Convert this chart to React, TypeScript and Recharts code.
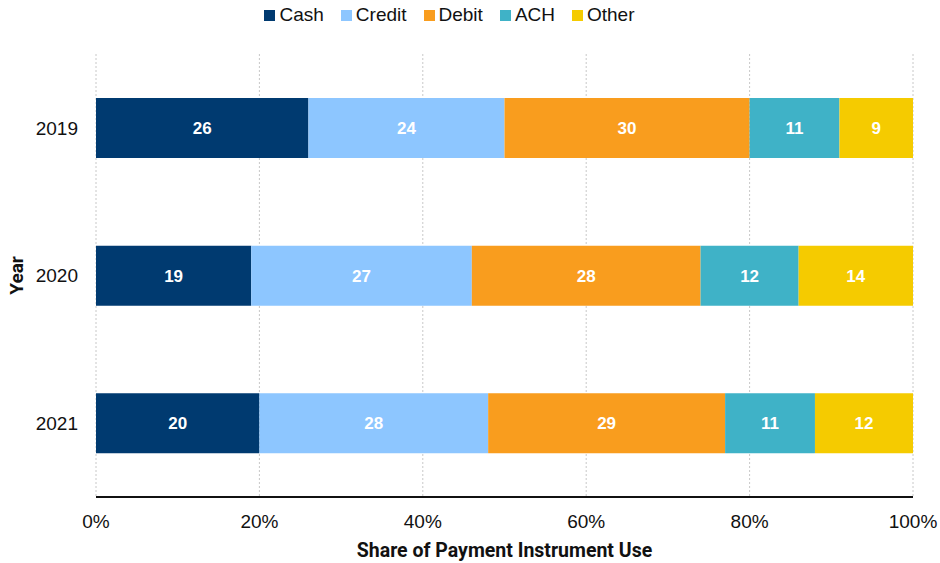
import React from "react";
import { BarChart, Bar, XAxis, YAxis, CartesianGrid, Legend, LabelList } from "recharts";

const years = ["2019", "2020", "2021"];
const cash = [26, 19, 20];
const credit = [24, 27, 28];
const debit = [30, 28, 29];
const ach = [11, 12, 11];
const other = [9, 14, 12];
const xTicks = [0, 20, 40, 60, 80, 100];

const seriesKeys = ["Cash", "Credit", "Debit", "ACH", "Other"];
const seriesColors = ["#003A70", "#8DC6FF", "#F99D1E", "#3FB2C7", "#F5CB00"];

const data = years.map((y, i) => ({
  year: y,
  Cash: cash[i],
  Credit: credit[i],
  Debit: debit[i],
  ACH: ach[i],
  Other: other[i],
}));

const LegendContent = () => (
  <div
    style={{
      height: 30,
      display: "flex",
      justifyContent: "center",
      alignItems: "center",
      fontFamily: "Liberation Sans",
      fontSize: 19,
      color: "#111",
      transform: "translateX(-7px)",
    }}
  >
    {seriesKeys.map((k, i) => (
      <div key={k} style={{ display: "flex", alignItems: "center", marginRight: i < seriesKeys.length - 1 ? 17 : 0 }}>
        <span style={{ display: "inline-block", width: 11, height: 11, background: seriesColors[i], marginRight: 4 }} />
        <span>{k}</span>
      </div>
    ))}
  </div>
);

export default function App() {
  return (
    <div style={{ position: "absolute", left: 0, top: 0, background: "#fff" }}>
      <BarChart
        width={940}
        height={563}
        data={data}
        layout="vertical"
        margin={{ top: 24, right: 27, bottom: 6, left: 0 }}
        barCategoryGap={0}
      >
        <CartesianGrid horizontal={false} stroke="#c8c8c8" strokeDasharray="2 2" />
        <XAxis
          type="number"
          domain={[0, 100]}
          ticks={xTicks}
          tickFormatter={(v) => `${v}%`}
          axisLine={{ stroke: "#111", strokeWidth: 2 }}
          tickLine={false}
          tick={{ fill: "#111", fontSize: 19, fontFamily: "Liberation Sans" }}
          tickMargin={12}
          height={60}
          label={{
            value: "Share of Payment Instrument Use",
            position: "insideBottom",
            offset: 0,
            style: { fill: "#111", fontSize: 19.5, fontWeight: 700, fontFamily: "Roboto" },
          }}
        />
        <YAxis
          type="category"
          dataKey="year"
          axisLine={false}
          tickLine={false}
          width={96}
          tickMargin={12}
          tick={{ fill: "#111", fontSize: 19, fontFamily: "Liberation Sans" }}
          label={{
            value: "Year",
            angle: -90,
            position: "insideLeft",
            offset: 16,
            style: { fill: "#111", fontSize: 19, fontWeight: 700, fontFamily: "Roboto", textAnchor: "middle" },
          }}
        />
        <Legend verticalAlign="top" align="center" wrapperStyle={{ top: 0 }} content={LegendContent} />
        {seriesKeys.map((k, i) => (
          <Bar
            key={k}
            dataKey={k}
            stackId="a"
            fill={seriesColors[i]}
            barSize={60}
            isAnimationActive={false}
          >
            <LabelList
              dataKey={k}
              position="center"
              fill="#fff"
              style={{ fontSize: 17, fontWeight: 700, fontFamily: "Liberation Sans" }}
            />
          </Bar>
        ))}
      </BarChart>
    </div>
  );
}
